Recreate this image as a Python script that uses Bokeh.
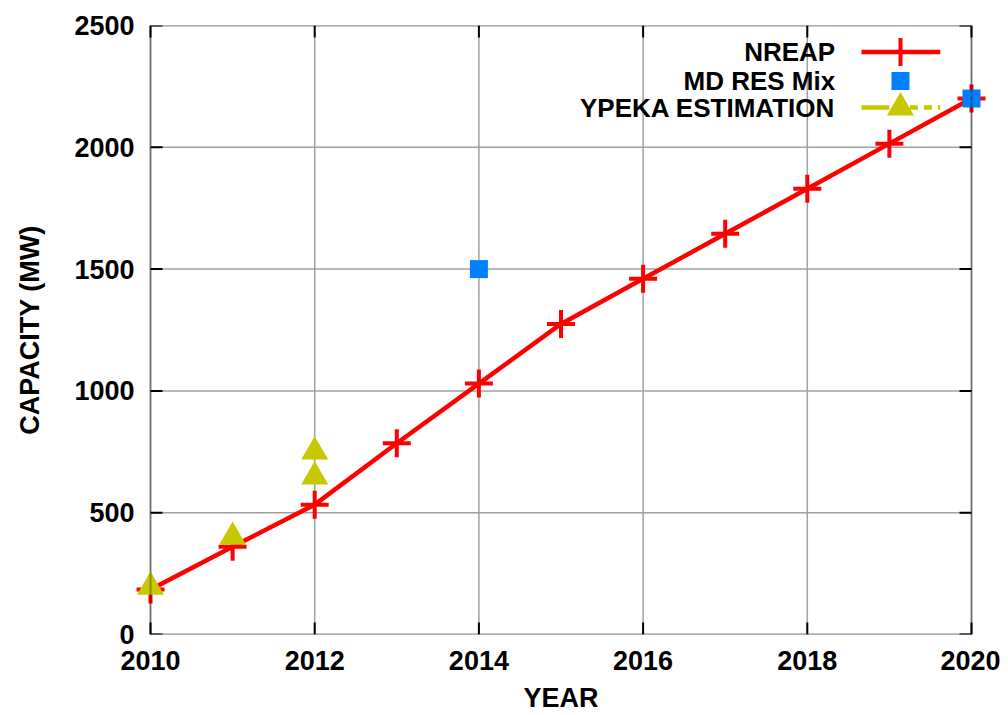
from bokeh.plotting import figure
from bokeh.models import Range1d, FixedTicker, ColumnDataSource, BoxAnnotation
from bokeh.embed import file_html
from bokeh.resources import INLINE
from bokeh.core.properties import value

# ---- data ----
nreap_years = [2010, 2011, 2012, 2013, 2014, 2015, 2016, 2017, 2018, 2019, 2020]
nreap_mw = [185, 360, 533, 785, 1030, 1275, 1460, 1645, 1830, 2015, 2200]
md_years = [2014, 2020]
md_mw = [1500, 2200]
ypeka_years = [2010, 2011, 2012, 2012]
ypeka_mw = [195, 400, 750, 648]
x_ticks = [2010, 2012, 2014, 2016, 2018, 2020]
y_ticks = [0, 500, 1000, 1500, 2000, 2500]
legend_labels = ["NREAP", "MD RES Mix", "YPEKA ESTIMATION"]

RED = "#ff0000"
BLUE = "#0080ff"
YEL = "#c8c800"
GRID = "#a0a0a0"
FONT = "Liberation Sans"

X0, X1, Y0, Y1 = 2010, 2020, 0, 2500
W, H = 1000, 715
BOX_L, BOX_R, BOX_T, BOX_B = 150, 971, 25, 634     # plot box in pixels
PAD = 16                                            # room so edge markers are not clipped
ML, MR, MT, MB = BOX_L - PAD, W - BOX_R - PAD, BOX_T, H - BOX_B
px_per_x = (BOX_R - BOX_L) / (X1 - X0)
px_per_y = (BOX_B - BOX_T) / (Y1 - Y0)
pad_x = PAD / px_per_x

p = figure(width=W, height=H, output_backend="svg", toolbar_location=None,
           x_range=Range1d(X0 - pad_x, X1 + pad_x), y_range=Range1d(Y0, Y1),
           min_border_left=ML, min_border_right=MR, min_border_top=MT, min_border_bottom=MB)
p.outline_line_color = None
p.background_fill_color = "white"
p.border_fill_color = "white"
p.xgrid.visible = False
p.ygrid.visible = False

for ax in (p.xaxis[0], p.yaxis[0]):
    ax.major_label_text_font = FONT
    ax.major_label_text_font_style = "bold"
    ax.major_label_text_font_size = "27px"
    ax.major_label_text_color = "black"
    ax.axis_label_text_font = FONT
    ax.axis_label_text_font_style = "bold"
    ax.axis_label_text_font_size = "27px"
    ax.axis_label_text_color = "black"
    ax.major_tick_in = 0
    ax.major_tick_out = 0
    ax.minor_tick_line_color = None
    ax.axis_line_color = None

p.xaxis[0].ticker = FixedTicker(ticks=x_ticks)
p.yaxis[0].ticker = FixedTicker(ticks=y_ticks)
p.xaxis[0].axis_label = "YEAR"
p.yaxis[0].axis_label = "CAPACITY (MW)"
p.xaxis[0].major_label_standoff = 16
p.xaxis[0].axis_label_standoff = 10
p.yaxis[0].major_label_standoff = 0
p.yaxis[0].axis_label_standoff = 26

# ---- grid lines (inside the plot box only) ----
p.segment(x0=x_ticks, y0=[Y0] * len(x_ticks), x1=x_ticks, y1=[Y1] * len(x_ticks),
          line_color=GRID, line_width=1.5)
p.segment(x0=[X0] * len(y_ticks), y0=y_ticks, x1=[X1] * len(y_ticks), y1=y_ticks,
          line_color=GRID, line_width=1.5)

# legend background (opaque key) hides the grid behind it
p.add_layout(BoxAnnotation(left=2014.99, right=2019.67, bottom=2106, top=2442,
                           fill_color="white", fill_alpha=1.0, line_color=None, level="underlay"))

# inward ticks on all four sides (12 px long)
dy = 12 / px_per_y
dx = 12 / px_per_x
nx, ny = len(x_ticks), len(y_ticks)
p.segment(x0=x_ticks, y0=[Y0] * nx, x1=x_ticks, y1=[Y0 + dy] * nx, line_color="black", line_width=2)
p.segment(x0=x_ticks, y0=[Y1] * nx, x1=x_ticks, y1=[Y1 - dy] * nx, line_color="black", line_width=2)
p.segment(x0=[X0] * ny, y0=y_ticks, x1=[X0 + dx] * ny, y1=y_ticks, line_color="black", line_width=2)
p.segment(x0=[X1] * ny, y0=y_ticks, x1=[X1 - dx] * ny, y1=y_ticks, line_color="black", line_width=2)

# ---- data series ----
src_n = ColumnDataSource(dict(x=nreap_years, y=nreap_mw))
p.line("x", "y", source=src_n, line_color=RED, line_width=4.5)
p.scatter("x", "y", source=src_n, marker="cross", size=28, line_color=RED, line_width=4)

src_m = ColumnDataSource(dict(x=md_years, y=md_mw))
p.scatter("x", "y", source=src_m, marker="square", size=18, fill_color=BLUE, line_color=None)

src_y = ColumnDataSource(dict(x=ypeka_years, y=ypeka_mw))
p.scatter("x", "y", source=src_y, marker="triangle", size=27, fill_color=YEL, line_color=None)

# plot border drawn in front
p.add_layout(BoxAnnotation(left=X0, right=X1, bottom=Y0, top=Y1, fill_alpha=0,
                           line_color="black", line_width=2))

# ---- legend (gnuplot style: right-aligned text, sample on the right) ----
leg_y = [2391, 2272, 2163]
p.text(x=[2018.34] * 3, y=leg_y, text=legend_labels, text_align="right", text_baseline="middle",
       text_font=value(FONT), text_font_style="bold", text_font_size="26px", text_color="black")
p.line([2018.66, 2019.62], [leg_y[0], leg_y[0]], line_color=RED, line_width=4.5)
p.scatter([2019.135], [leg_y[0]], marker="cross", size=28, line_color=RED, line_width=4)
p.scatter([2019.135], [leg_y[1]], marker="square", size=18, fill_color=BLUE, line_color=None)
p.line([2018.66, 2019.0], [leg_y[2], leg_y[2]], line_color=YEL, line_width=4.5)
p.line([2019.25, 2019.62], [leg_y[2], leg_y[2]], line_color=YEL, line_width=4.5, line_dash="8 6")
p.scatter([2019.135], [leg_y[2]], marker="triangle", size=27, fill_color=YEL, line_color=None)

open("out.html", "w").write(file_html(p, INLINE))
